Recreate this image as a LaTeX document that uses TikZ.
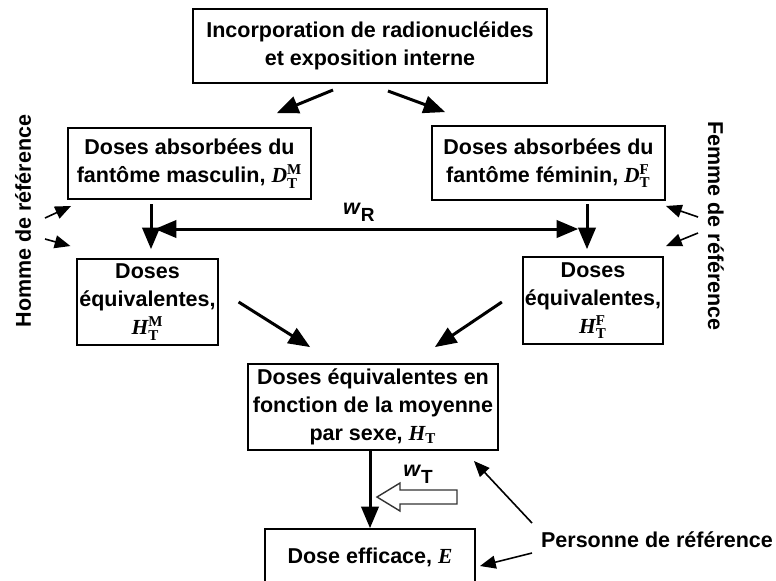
\documentclass[tikz,border=0pt]{standalone}
\usepackage{fontspec}
\usepackage{amsmath}
\setsansfont{Liberation Sans}
\newfontfamily\serifsym{Liberation Serif}
\usetikzlibrary{arrows}

\newcommand{\qsym}[3]{$\text{\serifsym\bfseries\itshape #1}^{\text{\serifsym\bfseries #2}}_{\text{\serifsym\bfseries #3}}$}
\newcommand{\qsub}[2]{$\text{\serifsym\bfseries\itshape #1}_{\text{\serifsym\bfseries #2}}$}
\newcommand{\wsub}[1]{\textit{w}\raisebox{-3.5pt}{\fontsize{9.5}{10}\selectfont #1}}

\begin{document}
\begin{tikzpicture}[->,>=triangle 45,x=0.5pt,y=0.5pt,line width=1.5pt,
  main node/.style={rectangle,draw,line width=1pt,align=center,inner sep=1pt,
    font=\sffamily\bfseries\fontsize{10.75}{14}\selectfont},
  ref label/.style={inner sep=0pt,font=\sffamily\bfseries\fontsize{10.75}{14}\selectfont},
  thin arrow/.style={line width=0.8pt}]

  \path[use as bounding box,clip] (0,0) rectangle (776,-580);

  \node[main node,minimum width=177pt,minimum height=37pt] (Incorp) at (370,-46)
  {Incorporation de radionucléides\\et exposition interne};
  \node[main node,minimum width=121.5pt,minimum height=35.5pt] (AbsM)
  [node distance=58.75pt,below of=Incorp,xshift=-90.25pt]
  {Doses absorbées du\\fantôme masculin, \qsym{D}{M}{T}};
  \node[main node,minimum width=116.5pt,minimum height=37pt] (AbsF)
  [node distance=58.5pt,below of=Incorp,xshift=89.25pt]
  {Doses absorbées du\\fantôme féminin, \qsym{D}{F}{T}};
  \node[main node,minimum width=69.5pt,minimum height=43pt] (EqM)
  [node distance=69.25pt,below of=AbsM,xshift=-21pt] {Doses\\équivalentes,\\\qsym{H}{M}{T}};
  \node[main node,minimum width=70pt,minimum height=43.5pt] (EqF)
  [node distance=68.75pt,below of=AbsF,xshift=22.25pt] {Doses\\équivalentes,\\\qsym{H}{F}{T}};
  \node[main node,minimum width=125pt,minimum height=43pt] (Moy)
  [node distance=180.5pt,below of=Incorp,xshift=1.5pt]
  {Doses équivalentes en\\fonction de la moyenne\\par sexe, \qsub{H}{T}};
  \node[main node,minimum width=105pt,inner sep=0pt,text height=17pt,text depth=20pt] (Eff)
  [node distance=79.5pt,below of=Moy,xshift=-1.5pt] {Dose efficace, {\serifsym\itshape E}};

  \node[ref label,rotate=90] (Homme) at (23,-221) {Homme de référence};
  \node[ref label,rotate=-90] (Femme) at (716,-226) {Femme de référence};
  \node[ref label] (Personne) at (657,-540) {Personne de référence};
  \node[ref label] (WT) at (418,-474) {\wsub{T}};

  \coordinate (h1) at (45,-218);
  \coordinate (h2) at (45,-239);
  \coordinate (f1) at (698,-217);
  \coordinate (f2) at (698,-233);
  \coordinate (p1) at (532,-523);
  \coordinate (p2) at (532,-553);

  \path
    ([xshift=-18.5pt,yshift=-3pt]Incorp.south) edge ([xshift=43.75pt,yshift=7pt]AbsM.north)
    ([xshift=9pt,yshift=-3.5pt]Incorp.south) edge ([xshift=-51.75pt,yshift=6.5pt]AbsF.north)
    ([xshift=-19.25pt,yshift=-2pt]AbsM.south) edge ([xshift=1.75pt,yshift=4.5pt]EqM.north)
    ([xshift=19.25pt,yshift=-1.5pt]AbsF.south) edge ([xshift=-3pt,yshift=3.5pt]EqF.north)
    ([xshift=-17.25pt,yshift=-14.5pt]AbsM.south) edge[<->]
      node[ref label,pos=0.482,above=3pt] {\wsub{R}} ([xshift=14.75pt,yshift=-14pt]AbsF.south)
    ([xshift=10pt]EqM.east) edge ([xshift=-31.5pt,yshift=8pt]Moy.north)
    ([xshift=-10pt,yshift=-0.75pt]EqF.west) edge ([xshift=31pt,yshift=8pt]Moy.north)
    ([xshift=-1.5pt]Moy.south) edge (Eff.north)
    ;

  \path[thin arrow]
    (h1) edge ([xshift=2pt,yshift=-3pt]AbsM.south west)
    (h2) edge ([xshift=-3pt,yshift=6pt]EqM.north west)
    (f1) edge ([yshift=-2.5pt]AbsF.south east)
    (f2) edge ([xshift=1pt,yshift=5pt]EqF.north east)
    (p1) edge ([xshift=-12.5pt,yshift=-5pt]Moy.south east)
    (p2) edge ([xshift=2pt]Eff.east)
    ;

  % open arrow for w_T
  \draw[-,line width=0.7pt,draw=black!80,fill=white] (457,-490) -- (400,-490) -- (400,-483)
    -- (377,-497) -- (400,-511) -- (400,-504) -- (457,-504) -- cycle;
\end{tikzpicture}
\end{document}
